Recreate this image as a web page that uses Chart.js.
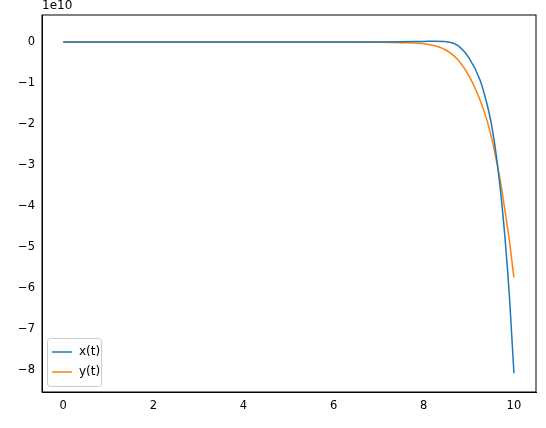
<!DOCTYPE html>
<html>
<head>
<meta charset="utf-8">
<script src="https://cdn.jsdelivr.net/npm/chart.js@4/dist/chart.umd.min.js"></script>
<style>
  body { margin: 0; background: #fff; }
  #wrap { width: 546px; height: 428px; }
</style>
</head>
<body>
<div id="wrap"><canvas id="c"></canvas></div>
<script>
// 数据（单位 1e10）
const tVals = [0, 2, 4, 6, 7, 7.5, 8, 8.25, 8.5, 8.75, 9, 9.25, 9.4, 9.5, 9.6, 9.7, 9.8, 9.9, 10];
const xVals = [0, 0, 0, 0, 0, 0.005, 0.015, 0.02, 0.01, -0.08, -0.38, -0.93, -1.5, -2.0, -2.7, -3.6, -4.75, -6.2, -8.08];
const yVals = [0, 0, 0, 0, -0.005, -0.015, -0.04, -0.09, -0.2, -0.42, -0.82, -1.42, -1.9, -2.32, -2.83, -3.4, -4.1, -4.85, -5.75];
const xTicks = [0, 2, 4, 6, 8, 10];
const yTicks = [0, -1, -2, -3, -4, -5, -6, -7, -8];

const FONT = 'DejaVu Sans';

function pts(vals) {
    return tVals.map((t, i) => ({ x: t, y: vals[i] }));
}

// 图例和 1e10 标记
const extras = {
    id: 'extras',
    afterDraw(chart) {
        const ctx = chart.ctx;
        const a = chart.chartArea;
        ctx.save();
        ctx.fillStyle = '#000';
        ctx.strokeStyle = '#000';
        ctx.lineWidth = 1;
        ctx.strokeRect(a.left, a.top, a.right - a.left, a.bottom - a.top);
        ctx.font = '12px ' + FONT;
        ctx.textBaseline = 'bottom';
        ctx.fillText('1e10', a.left, a.top - 3);
        // legend box
        const bx = a.left + 5, by = a.bottom - 54, bw = 54, bh = 48;
        ctx.fillStyle = 'rgba(255,255,255,0.8)';
        ctx.strokeStyle = '#ccc';
        ctx.beginPath();
        ctx.roundRect(bx + 0.5, by + 0.5, bw, bh, 3);
        ctx.fill();
        ctx.stroke();
        const items = [['x(t)', '#1f77b4'], ['y(t)', '#ff7f0e']];
        ctx.textBaseline = 'middle';
        items.forEach((it, i) => {
            const yy = by + 14 + i * 20;
            ctx.strokeStyle = it[1];
            ctx.lineWidth = 1.5;
            ctx.beginPath();
            ctx.moveTo(bx + 5, yy);
            ctx.lineTo(bx + 25, yy);
            ctx.stroke();
            ctx.fillStyle = '#000';
            ctx.fillText(it[0], bx + 32, yy);
        });
        ctx.restore();
    }
};

new Chart(document.getElementById('c'), {
    type: 'line',
    data: {
        datasets: [
            { label: 'x(t)', data: pts(xVals), borderColor: '#1f77b4', borderWidth: 1.5, pointRadius: 0, cubicInterpolationMode: 'monotone' },
            { label: 'y(t)', data: pts(yVals), borderColor: '#ff7f0e', borderWidth: 1.5, pointRadius: 0, cubicInterpolationMode: 'monotone' }
        ]
    },
    options: {
        responsive: true,
        maintainAspectRatio: false,
        animation: false,
        layout: { padding: { left: 0, top: 15, right: 10, bottom: 0 } },
        plugins: { legend: { display: false }, tooltip: { enabled: false } },
        scales: {
            x: {
                type: 'linear',
                min: -0.47, max: 10.49,
                afterBuildTicks: s => { s.ticks = xTicks.map(v => ({ value: v })); },
                afterFit: s => { s.height = 36; },
                grid: { display: false, drawTicks: true, tickLength: 4, tickColor: '#000' },
                border: { color: '#000' },
                ticks: { color: '#000', font: { family: FONT, size: 11.5 }, padding: 3, maxRotation: 0 }
            },
            y: {
                type: 'linear',
                min: -8.54, max: 0.66,
                afterBuildTicks: s => { s.ticks = yTicks.map(v => ({ value: v })); },
                afterFit: s => { s.width = 42; },
                grid: { display: false, drawTicks: true, tickLength: 4, tickColor: '#000' },
                border: { color: '#000' },
                ticks: { color: '#000', font: { family: FONT, size: 11.5 }, padding: 3,
                         callback: v => (v < 0 ? '\u2212' + Math.abs(v) : String(v)) }
            }
        }
    },
    plugins: [extras]
});
</script>
</body>
</html>
